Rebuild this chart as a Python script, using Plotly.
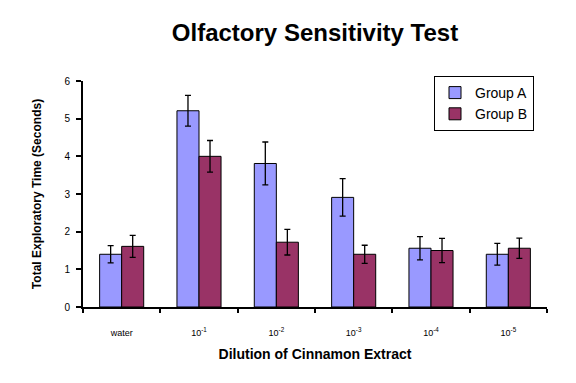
import plotly.graph_objects as go

categories = ["water", "10<sup>-1</sup>", "10<sup>-2</sup>", "10<sup>-3</sup>", "10<sup>-4</sup>", "10<sup>-5</sup>"]
group_a = [1.40, 5.21, 3.81, 2.91, 1.56, 1.40]
group_a_err = [0.23, 0.41, 0.57, 0.50, 0.31, 0.29]
group_b = [1.61, 4.00, 1.72, 1.40, 1.50, 1.56]
group_b_err = [0.29, 0.42, 0.34, 0.24, 0.32, 0.27]

fig = go.Figure()
fig.add_trace(go.Bar(
    x=categories, y=group_a, name="Group A",
    marker=dict(color="#9999FF", line=dict(color="black", width=1)),
    error_y=dict(type="data", array=group_a_err, color="black", thickness=1.3, width=3),
))
fig.add_trace(go.Bar(
    x=categories, y=group_b, name="Group B",
    marker=dict(color="#993366", line=dict(color="black", width=1)),
    error_y=dict(type="data", array=group_b_err, color="black", thickness=1.3, width=3),
))

fig.update_layout(
    width=576, height=383,
    paper_bgcolor="white", plot_bgcolor="white",
    margin=dict(l=83, r=29, t=81, b=76, autoexpand=False),
    barmode="group", bargap=0.43, bargroupgap=0,
    font=dict(family="Liberation Sans, Arial, sans-serif", color="black"),
    title=dict(text="<b>Olfactory Sensitivity Test</b>", x=0.5, xref="paper", xanchor="center",
               y=1 - 33 / 383, yref="container", yanchor="middle", font=dict(size=24, color="black")),
    legend=dict(x=(434 - 83) / 464, y=1 + 5 / 226, xanchor="left", yanchor="top",
                bordercolor="black", borderwidth=1, bgcolor="white",
                font=dict(size=14), itemwidth=30, tracegroupgap=2),
    showlegend=True,
)
fig.update_xaxes(
    type="category", showline=True, linecolor="black", linewidth=2,
    ticks="outside", tickson="boundaries", ticklen=4, tickwidth=2, tickcolor="black",
    tickfont=dict(size=9), ticklabelstandoff=16, automargin=False,
    title=dict(text="<b>Dilution of Cinnamon Extract</b>", font=dict(size=14), standoff=12),
    showgrid=False,
)
fig.update_yaxes(
    range=[0, 6], dtick=1, showline=True, linecolor="black", linewidth=2,
    ticks="outside", ticklen=5, tickwidth=2, tickcolor="black", ticklabelstandoff=4,
    tickfont=dict(size=10), showgrid=False, zeroline=False, automargin=False,
    title=dict(text="<b>Total Exploratory Time (Seconds)</b>", font=dict(size=12), standoff=20),
)

fig.write_html(
    "out.html",
    config={"displayModeBar": False},
    post_script="document.body.style.margin='0';document.body.style.padding='0';document.body.style.overflow='hidden';",
)
